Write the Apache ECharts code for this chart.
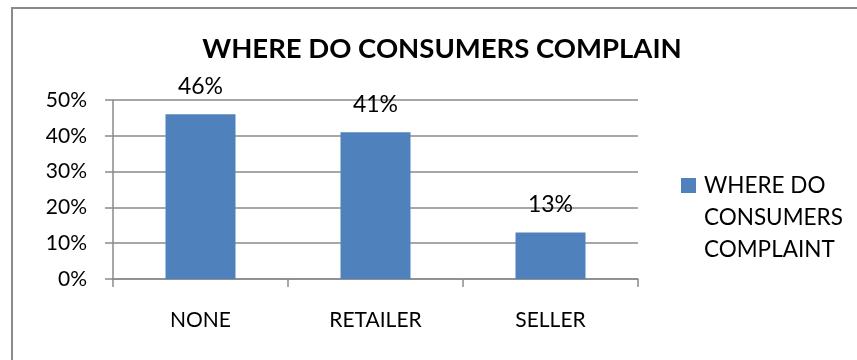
<!DOCTYPE html>
<html>
<head>
<meta charset="utf-8">
<script src="https://cdn.jsdelivr.net/npm/echarts@6/dist/echarts.min.js"></script>
<style>
  html, body { margin: 0; padding: 0; background: #fff; }
  #chart { width: 857px; height: 360px; }
</style>
</head>
<body>
<div id="chart"></div>
<script>
// Survey results: where consumers take their complaints
const categories = ['NONE', 'RETAILER', 'SELLER'];
const shares = [0.46, 0.41, 0.13];
const seriesName = 'WHERE DO CONSUMERS COMPLAINT';
const chartTitle = 'WHERE DO CONSUMERS COMPLAIN';

const FONT = 'Lato, "Open Sans", sans-serif';
const GRAY = '#8a8a8a';
const pct = v => Math.round(v * 100) + '%';

// Legend entry wraps over three lines; the two leading blank lines keep the
// first line level with the colour swatch (the block is centred on it).
const legendText = '\n\nWHERE DO\nCONSUMERS\nCOMPLAINT';

const chart = echarts.init(document.getElementById('chart'), null, { renderer: 'canvas' });

chart.setOption({
  animation: false,
  title: {
    text: chartTitle,
    left: 437,
    textAlign: 'center',
    top: 30,
    textStyle: { fontFamily: FONT, fontSize: 27.5, fontWeight: 'bold', color: '#000' }
  },
  legend: {
    left: 681,
    top: 105.5,
    padding: 0,
    itemWidth: 15,
    itemHeight: 15,
    icon: 'rect',
    formatter: () => legendText,
    textStyle: {
      fontFamily: FONT, fontSize: 22.5, color: '#000',
      lineHeight: 32, padding: [0, 0, 0, 3]
    },
    data: [seriesName]
  },
  grid: { left: 113, right: 219, top: 100, bottom: 81 },
  xAxis: {
    type: 'category',
    data: categories,
    axisLine: { lineStyle: { color: GRAY, width: 1.5 } },
    axisTick: { show: true, length: 8, lineStyle: { color: GRAY, width: 1.5 } },
    axisLabel: { margin: 31, fontFamily: FONT, fontSize: 21, color: '#000' }
  },
  yAxis: {
    type: 'value',
    min: 0,
    max: 0.5,
    interval: 0.1,
    axisLine: { show: true, lineStyle: { color: GRAY, width: 1.5 } },
    axisTick: { show: true, length: 8, lineStyle: { color: GRAY, width: 1.5 } },
    splitLine: { lineStyle: { color: GRAY, width: 1.5 } },
    axisLabel: { margin: 26, fontFamily: FONT, fontSize: 21, color: '#000', formatter: pct }
  },
  series: [{
    name: seriesName,
    type: 'bar',
    data: shares,
    barWidth: '40%',
    itemStyle: { color: '#4F81BD' },
    label: {
      show: true,
      position: 'top',
      distance: 16,
      fontFamily: FONT, fontSize: 23, color: '#000',
      formatter: p => pct(p.value)
    }
  }],
  graphic: [{
    type: 'rect',
    silent: true,
    z: -1,
    shape: { x: 12, y: 8, width: 900, height: 400 },
    style: { fill: 'none', stroke: GRAY, lineWidth: 2 }
  }]
});
</script>
</body>
</html>
